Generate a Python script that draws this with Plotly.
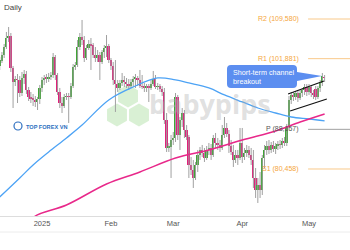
import math
import pandas as pd
import plotly.graph_objects as go

# ---------------- data ----------------
dates = pd.date_range("2024-12-13", periods=147, freq="D")

open_ = [100.46, 101.43, 102.59, 104.14, 105.89, 106.28, 100.07, 97.35, 97.93, 97.74,
         95.21, 98.13, 98.90, 95.80, 94.44, 94.05, 93.86, 93.47, 94.05, 96.19,
         97.74, 98.13, 97.93, 98.32, 98.71, 102.20, 98.71, 95.41, 93.27, 92.69,
         94.44, 94.63, 94.44, 96.57, 100.26, 100.65, 104.14, 106.09, 105.50, 102.01,
         103.95, 104.73, 104.53, 102.59, 102.01, 102.59, 101.23, 103.17, 103.95, 104.34,
         101.62, 100.46, 97.74, 96.96, 96.19, 97.16, 97.74, 97.35, 96.96, 96.57,
         97.35, 97.93, 98.13, 97.74, 96.57, 96.38, 96.19, 96.38, 96.19, 96.96,
         97.93, 96.38, 96.57, 95.99, 95.41, 89.97, 84.54, 84.73, 86.09, 86.48,
         94.44, 87.06, 89.97, 91.33, 88.03, 86.67, 81.24, 80.26, 78.71, 81.24,
         83.18, 84.15, 83.57, 82.59, 84.15, 84.54, 83.18, 86.48, 85.51, 85.12,
         84.54, 87.06, 88.42, 87.25, 84.92, 83.76, 82.21, 83.18, 82.59, 85.51,
         82.79, 83.57, 84.15, 83.18, 82.21, 78.71, 76.38, 77.35, 76.38, 82.59,
         84.15, 84.92, 84.15, 85.12, 84.34, 84.92, 85.31, 85.12, 85.89, 85.51,
         88.61, 93.86, 94.83, 94.44, 95.21, 94.24, 95.21, 95.80, 96.38, 95.41,
         96.38, 95.21, 95.99, 94.44, 96.19, 97.16, 98.32]

high = [102.20, 103.17, 104.73, 107.06, 108.03, 106.86, 100.46, 98.51, 98.90, 98.51,
        99.29, 99.68, 99.49, 96.38, 95.41, 95.02, 94.63, 94.44, 96.77, 98.32,
        98.71, 98.90, 99.10, 99.29, 102.98, 102.59, 99.10, 96.19, 94.44, 95.02,
        95.21, 95.21, 97.16, 100.84, 101.23, 105.50, 106.86, 109.39, 106.28, 104.53,
        105.50, 105.89, 104.92, 104.14, 103.56, 103.17, 103.56, 104.53, 106.47, 104.73,
        102.01, 101.23, 101.62, 97.74, 97.74, 99.10, 98.51, 98.13, 97.93, 97.93,
        98.51, 98.90, 98.51, 99.68, 98.71, 97.16, 96.96, 96.96, 97.74, 99.49,
        98.71, 97.16, 96.96, 96.57, 96.19, 91.33, 85.51, 87.06, 87.64, 95.21,
        94.83, 90.55, 92.30, 91.91, 88.99, 87.06, 82.79, 82.21, 81.82, 84.15,
        84.73, 85.12, 84.54, 84.92, 85.51, 85.31, 87.06, 87.45, 86.48, 86.09,
        88.99, 90.55, 89.39, 88.03, 86.09, 85.12, 84.15, 84.15, 88.42, 88.42,
        84.54, 85.12, 84.92, 84.54, 84.15, 80.65, 78.71, 79.88, 83.18, 85.12,
        85.89, 86.09, 85.70, 85.89, 85.51, 85.89, 86.09, 86.48, 86.67, 89.20,
        94.63, 95.41, 95.41, 95.60, 95.80, 95.80, 96.19, 96.96, 96.96, 96.96,
        96.77, 95.80, 96.57, 96.57, 97.74, 99.10, 98.71]

low = [99.68, 101.04, 102.01, 103.76, 105.12, 99.29, 92.30, 96.57, 93.27, 94.44,
       94.63, 96.96, 95.02, 93.66, 93.27, 92.69, 92.50, 91.91, 93.08, 95.41,
       96.77, 97.16, 97.35, 97.74, 98.13, 97.74, 94.83, 92.30, 91.33, 92.30,
       93.86, 89.39, 94.05, 96.19, 99.68, 100.26, 103.56, 104.53, 101.23, 101.62,
       103.56, 99.68, 102.01, 101.23, 101.23, 97.74, 100.84, 102.01, 102.20, 101.04,
       99.68, 96.77, 91.53, 95.41, 95.80, 96.57, 96.38, 96.19, 95.80, 96.19,
       96.38, 96.19, 96.57, 96.19, 95.99, 95.41, 95.41, 93.47, 95.80, 96.57,
       95.99, 95.80, 95.41, 94.63, 89.20, 83.76, 83.76, 78.71, 85.12, 85.70,
       86.09, 84.15, 88.61, 86.48, 86.09, 78.71, 79.29, 76.77, 78.32, 79.88,
       82.21, 82.79, 81.82, 82.21, 83.18, 82.21, 82.79, 84.54, 84.15, 83.76,
       84.15, 86.48, 86.67, 83.57, 83.18, 80.85, 81.62, 81.24, 82.21, 81.62,
       82.21, 82.79, 82.59, 81.24, 76.77, 74.83, 73.86, 74.83, 75.41, 80.65,
       83.18, 83.37, 83.57, 83.76, 83.37, 84.15, 84.34, 84.54, 84.92, 84.92,
       88.03, 93.08, 93.66, 93.86, 93.47, 93.86, 94.44, 94.83, 94.63, 94.83,
       94.44, 94.05, 93.86, 94.05, 95.41, 96.57, 97.35]

close = [101.62, 102.59, 104.14, 105.89, 106.28, 100.07, 97.35, 97.93, 97.74, 95.21,
         98.13, 98.90, 95.80, 94.44, 94.05, 93.86, 93.47, 94.05, 96.19, 97.74,
         98.13, 97.93, 98.32, 98.71, 102.20, 98.71, 95.41, 93.27, 92.69, 94.44,
         94.63, 94.44, 96.57, 100.26, 100.65, 104.14, 106.09, 105.50, 102.01, 103.95,
         104.73, 104.53, 102.59, 102.01, 102.59, 101.23, 103.17, 103.95, 104.34, 101.62,
         100.46, 97.74, 96.96, 96.19, 97.16, 97.74, 97.35, 96.96, 96.57, 97.35,
         97.93, 98.13, 97.74, 96.57, 96.38, 96.19, 96.38, 96.19, 96.96, 97.93,
         96.38, 96.57, 95.99, 95.41, 89.97, 84.54, 84.73, 86.09, 86.48, 94.44,
         87.06, 89.97, 91.33, 88.03, 86.67, 81.24, 80.26, 78.71, 81.24, 83.18,
         84.15, 83.57, 82.59, 84.15, 84.54, 83.18, 86.48, 85.51, 85.12, 84.54,
         87.06, 88.42, 87.25, 84.92, 83.76, 82.21, 83.18, 82.59, 85.51, 82.79,
         83.57, 84.15, 83.18, 82.21, 78.71, 76.38, 77.35, 76.38, 82.59, 84.15,
         84.92, 84.15, 85.12, 84.34, 84.92, 85.31, 85.12, 85.89, 85.51, 88.61,
         93.86, 94.83, 94.44, 95.21, 94.24, 95.21, 95.80, 96.38, 95.41, 96.38,
         95.21, 94.83, 94.44, 96.19, 97.16, 98.51, 98.13]

# moving averages
ma_blue_dates = ["2024-12-13", "2024-12-22", "2024-12-28", "2025-01-04", "2025-01-12",
                 "2025-01-19", "2025-01-31", "2025-02-11", "2025-02-22", "2025-03-02",
                 "2025-03-08", "2025-03-17", "2025-03-24", "2025-04-01", "2025-04-08",
                 "2025-04-16", "2025-04-23", "2025-05-01", "2025-05-08"]
ma_blue = [75.02, 78.71, 81.24, 83.76, 86.48, 88.99, 93.86, 96.38, 98.13, 97.74,
           97.16, 96.19, 94.83, 93.47, 92.30, 91.33, 90.55, 90.16, 89.78]

ma_pink_dates = ["2024-12-27", "2024-12-29", "2025-01-12", "2025-01-30", "2025-02-14",
                 "2025-03-02", "2025-03-17", "2025-04-01", "2025-04-16", "2025-04-27",
                 "2025-05-08"]
ma_pink = [70.17, 71.33, 73.47, 77.55, 79.88, 82.59, 84.15, 86.09, 87.84, 89.58, 91.14]

# channel lines
chan_upper_dates = ["2025-04-21 14:00", "2025-05-07 17:00"]
chan_upper = [95.02, 97.54]
chan_lower_dates = ["2025-04-22 12:00", "2025-05-09 00:00"]
chan_lower = [91.72, 94.05]

# pivot levels
pivot_names = ["R2", "R1", "P", "S1"]
pivot_values = [109.580, 101.881, 88.157, 80.458]

tick_dates = ["2025-01-01", "2025-02-01", "2025-03-01", "2025-04-01", "2025-05-01"]
tick_text = ["2025", "Feb", "Mar", "Apr", "May"]

# ---------------- figure ----------------
W, H = 350, 250
PLOT_H = 216
X_RANGE = ["2024-12-13 03:00", "2025-05-19 10:00"]
Y_RANGE = [71.33, 113.27]

def px(x):
    return x / W

def py(y):
    return 1 - y / PLOT_H

GREEN = "#3fa535"
PINK = "#e0217a"

fig = go.Figure()

# wicks
wx, wy = [], []
for d, l, h in zip(dates, low, high):
    wx += [d, d, None]
    wy += [l, h, None]
fig.add_trace(go.Scatter(x=wx, y=wy, mode="lines",
                         line=dict(color="#a0a0a0", width=1),
                         hoverinfo="skip", showlegend=False))

# bodies
base = [min(o, c) for o, c in zip(open_, close)]
hgt = [max(abs(c - o), 0.15) for o, c in zip(open_, close)]
cols = [GREEN if c >= o else PINK for o, c in zip(open_, close)]
fig.add_trace(go.Bar(x=dates, y=hgt, base=base, marker=dict(color=cols, line=dict(width=0)),
                     width=0.8 * 86400000, showlegend=False))

# moving averages
fig.add_trace(go.Scatter(x=ma_blue_dates, y=ma_blue, mode="lines", line_shape="spline",
                         line=dict(color="#4da3f5", width=1.3), showlegend=False))
fig.add_trace(go.Scatter(x=ma_pink_dates, y=ma_pink, mode="lines", line_shape="spline",
                         line=dict(color="#e8288a", width=1.5), showlegend=False))

# channel
fig.add_trace(go.Scatter(x=chan_upper_dates, y=chan_upper, mode="lines",
                         line=dict(color="#111111", width=1.2), showlegend=False))
fig.add_trace(go.Scatter(x=chan_lower_dates, y=chan_lower, mode="lines",
                         line=dict(color="#111111", width=1.2), showlegend=False))

shapes = []
annotations = []

# pivot lines and labels
for name, val in zip(pivot_names, pivot_values):
    col_line = "#a0a0a0" if name == "P" else "#f9c98a"
    col_txt = "#555555" if name == "P" else "#f5a63c"
    shapes.append(dict(type="line", xref="x", yref="y", x0="2025-04-30 14:00", x1=X_RANGE[1],
                       y0=val, y1=val, line=dict(color=col_line, width=1)))
    annotations.append(dict(xref="x", yref="y", x="2025-04-27 10:00", y=val,
                            xanchor="right", yanchor="middle", showarrow=False,
                            text=f"{name} ({val:.3f})".replace(".", ","),
                            font=dict(size=7, color=col_txt, family="Liberation Sans")))

# watermark hexagons
def hexagon(cx, cy, r):
    pts = []
    for k in range(6):
        a = math.radians(-90 + 60 * k)
        pts.append((px(cx + r * math.cos(a)), py(cy + r * math.sin(a))))
    return "M " + " L ".join(f"{x:.4f},{y:.4f}" for x, y in pts) + " Z"

for cx, cy in [(128, 96), (117, 115), (139, 115)]:
    shapes.append(dict(type="path", xref="paper", yref="paper", path=hexagon(cx, cy, 11.5),
                       fillcolor="rgba(170,222,160,0.45)", line=dict(width=0), layer="below"))

annotations.append(dict(xref="paper", yref="paper", x=px(210), y=py(103), xanchor="center",
                        yanchor="middle", showarrow=False, text="<b>babypips</b>",
                        font=dict(size=27, color="rgba(175,175,175,0.40)", family="Open Sans")))

# callout
L_, R_, T_, B_, r = 227, 297, 65, 88, 4
tipx, tipy = 322, 76
path = (f"M {px(L_ + r)},{py(T_)} L {px(R_ - r)},{py(T_)} Q {px(R_)},{py(T_)} {px(R_)},{py(T_ + r)} "
        f"L {px(R_)},{py(72)} L {px(tipx)},{py(tipy)} L {px(R_)},{py(81)} "
        f"L {px(R_)},{py(B_ - r)} Q {px(R_)},{py(B_)} {px(R_ - r)},{py(B_)} "
        f"L {px(L_ + r)},{py(B_)} Q {px(L_)},{py(B_)} {px(L_)},{py(B_ - r)} "
        f"L {px(L_)},{py(T_ + r)} Q {px(L_)},{py(T_)} {px(L_ + r)},{py(T_)} Z")
shapes.append(dict(type="path", xref="paper", yref="paper", path=path,
                   fillcolor="#5c8ef0", line=dict(width=0)))
annotations.append(dict(xref="paper", yref="paper", x=px(231), y=py(76.5), xanchor="left",
                        yanchor="middle", showarrow=False, align="left",
                        text="Short-term channel<br>breakout",
                        font=dict(size=7.2, color="white", family="Liberation Sans")))

# title
annotations.append(dict(xref="paper", yref="paper", x=px(2), y=py(8), xanchor="left",
                        yanchor="middle", showarrow=False, text="Daily",
                        font=dict(size=8, color="#444444", family="Liberation Sans")))

# TOP FOREX VN logo
shapes.append(dict(type="circle", xref="paper", yref="paper", x0=px(14), x1=px(22),
                   y0=py(130), y1=py(122), line=dict(color="#2d6fc0", width=1.2)))
annotations.append(dict(xref="paper", yref="paper", x=px(23.5), y=py(127), xanchor="left",
                        yanchor="middle", showarrow=False, text="<b>TOP FOREX VN</b>",
                        font=dict(size=5.6, color="#2d6fc0", family="Liberation Sans")))

# bottom frame line
shapes.append(dict(type="line", xref="paper", yref="paper", x0=0, x1=1,
                   y0=py(232), y1=py(232), line=dict(color="#ececec", width=1)))

fig.update_layout(
    width=W, height=H,
    margin=dict(l=0, r=0, t=0, b=H - PLOT_H),
    paper_bgcolor="white", plot_bgcolor="white",
    barmode="overlay", bargap=0,
    shapes=shapes, annotations=annotations,
    xaxis=dict(type="date", range=X_RANGE, tickvals=tick_dates, ticktext=tick_text,
               showgrid=False, zeroline=False, showline=True, linecolor="#dddddd",
               linewidth=1, ticks="", tickfont=dict(size=7.5, color="#555555",
                                                     family="Liberation Sans")),
    yaxis=dict(range=Y_RANGE, showgrid=False, zeroline=False, showticklabels=False,
               showline=False),
    showlegend=False,
)

fig.write_html("out.html")
